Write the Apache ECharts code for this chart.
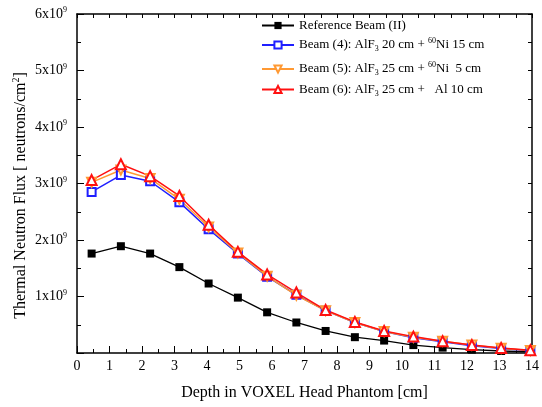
<!DOCTYPE html>
<html>
<head>
<meta charset="utf-8">
<script src="https://cdn.jsdelivr.net/npm/echarts@6/dist/echarts.min.js"></script>
<style>
    html, body { margin: 0; padding: 0; background: #fff; }
    #flux-chart { width: 542px; height: 407px; }
</style>
</head>
<body>
<div id="flux-chart"></div>
<script>
// depth of each voxel centre [cm]
var depth = [0.45, 1.35, 2.25, 3.15, 4.05, 4.95, 5.85, 6.75, 7.65, 8.55, 9.45, 10.35, 11.25, 12.15, 13.05, 13.95];

// thermal neutron flux, in units of 1e9 neutrons/cm2
var refBeam = [1.76, 1.89, 1.76, 1.52, 1.23, 0.98, 0.72, 0.54, 0.39, 0.28, 0.22, 0.14, 0.095, 0.06, 0.035, 0.02];
var beam4 = [2.85, 3.15, 3.04, 2.67, 2.19, 1.76, 1.35, 1.03, 0.75, 0.54, 0.38, 0.27, 0.20, 0.13, 0.08, 0.04];
var beam5 = [3.02, 3.24, 3.09, 2.72, 2.23, 1.77, 1.36, 1.02, 0.75, 0.54, 0.38, 0.28, 0.21, 0.14, 0.085, 0.045];
var beam6 = [3.06, 3.34, 3.13, 2.78, 2.27, 1.79, 1.39, 1.07, 0.76, 0.55, 0.39, 0.29, 0.21, 0.14, 0.09, 0.05];

var seriesNames = ['Reference Beam (II)', 'Beam (4)', 'Beam (5)', 'Beam (6)'];
var legendLabels = {
    'Reference Beam (II)': '{t|Reference Beam (II)}',
    'Beam (4)': '{t|Beam (4): AlF}{sub|3}{t| 20 cm + }{sup|60}{t|Ni 15 cm}',
    'Beam (5)': '{t|Beam (5): AlF}{sub|3}{t| 25 cm + }{sup|60}{t|Ni  5 cm}',
    'Beam (6)': '{t|Beam (6): AlF}{sub|3}{t| 25 cm +   Al 10 cm}'
};
var legendTops = [14, 32, 56, 78];

var fontFamily = '"Liberation Serif", "Times New Roman", serif';

function pairs(ys) {
    var out = [];
    for (var i = 0; i < depth.length; i++) {
        out.push([depth[i], ys[i] * 1e9]);
    }
    return out;
}

var richText = {
    t: { fontSize: 13, fontFamily: fontFamily, color: '#000' },
    sub: { fontSize: 8, fontFamily: fontFamily, color: '#000', padding: [8, 0, 0, 0] },
    sup: { fontSize: 8, fontFamily: fontFamily, color: '#000', padding: [0, 0, 8, 0] }
};

var legends = seriesNames.map(function (name, i) {
    return {
        data: [name],
        left: 256,
        top: legendTops[i],
        orient: 'vertical',
        itemWidth: 32,
        itemHeight: 9,
        itemGap: 0,
        textStyle: {
            fontFamily: fontFamily,
            fontSize: 13,
            color: '#000',
            rich: richText
        },
        formatter: function (n) {
            return legendLabels[n];
        }
    };
});

var tickStyle = { color: '#000', width: 1 };

option = {
    animation: false,
    backgroundColor: '#fff',
    legend: legends,
    grid: {
        left: 77,
        right: 9,
        top: 14,
        bottom: 54
    },
    xAxis: [
        {
            type: 'value',
            min: 0,
            max: 14,
            interval: 1,
            position: 'bottom',
            name: 'Depth in VOXEL Head Phantom [cm]',
            nameLocation: 'middle',
            nameGap: 32,
            nameTextStyle: { fontFamily: fontFamily, fontSize: 16, color: '#000' },
            axisLine: { onZero: false, lineStyle: { color: '#000', width: 1.5 } },
            axisTick: { inside: true, length: 7, lineStyle: tickStyle },
            minorTick: { show: true, splitNumber: 2, length: 4, lineStyle: tickStyle },
            axisLabel: { fontFamily: fontFamily, fontSize: 14, color: '#000', margin: 6 },
            splitLine: { show: false }
        },
        {
            type: 'value',
            min: 0,
            max: 14,
            interval: 1,
            position: 'top',
            axisLine: { onZero: false, lineStyle: { color: '#000', width: 1.5 } },
            axisTick: { inside: true, length: 4, lineStyle: tickStyle },
            minorTick: { show: true, splitNumber: 2, length: 4, lineStyle: tickStyle },
            axisLabel: { show: false },
            splitLine: { show: false }
        }
    ],
    yAxis: [
        {
            type: 'value',
            min: 0,
            max: 6e9,
            interval: 1e9,
            position: 'left',
            name: '{t|Thermal Neutron Flux [ neutrons/cm}{sup|2}{t|]}',
            nameLocation: 'middle',
            nameGap: 47,
            nameMoveOverlap: false,
            nameTextStyle: {
                padding: [12, 24, 0, 0],
                rich: {
                    t: { fontSize: 16, fontFamily: fontFamily, color: '#000' },
                    sup: { fontSize: 10, fontFamily: fontFamily, color: '#000', padding: [0, 0, 9, 0] }
                }
            },
            axisLine: { onZero: false, lineStyle: { color: '#000', width: 1.5 } },
            axisTick: { inside: true, length: 7, lineStyle: tickStyle },
            minorTick: { show: true, splitNumber: 2, length: 4, lineStyle: tickStyle },
            axisLabel: {
                margin: 10,
                formatter: function (v) {
                    if (v === 0) {
                        return '';
                    }
                    return '{t|' + Math.round(v / 1e9) + 'x10}{sup|9}';
                },
                rich: {
                    t: { fontSize: 14, fontFamily: fontFamily, color: '#000' },
                    sup: { fontSize: 8, fontFamily: fontFamily, color: '#000', padding: [0, 0, 8, 0] }
                }
            },
            splitLine: { show: false }
        },
        {
            type: 'value',
            min: 0,
            max: 6e9,
            interval: 1e9,
            position: 'right',
            axisLine: { onZero: false, lineStyle: { color: '#000', width: 1.5 } },
            axisTick: { inside: true, length: 4, lineStyle: tickStyle },
            minorTick: { show: true, splitNumber: 2, length: 4, lineStyle: tickStyle },
            axisLabel: { show: false },
            splitLine: { show: false }
        }
    ],
    series: [
        {
            name: 'Reference Beam (II)',
            type: 'line',
            data: pairs(refBeam),
            symbol: 'rect',
            symbolSize: 8,
            itemStyle: { color: '#000' },
            lineStyle: { color: '#000', width: 1.3 }
        },
        {
            name: 'Beam (4)',
            type: 'line',
            data: pairs(beam4),
            symbol: 'emptyRect',
            symbolSize: 8,
            itemStyle: { color: '#1f1fff', borderWidth: 1.3 },
            lineStyle: { color: '#1f1fff', width: 1.5 }
        },
        {
            name: 'Beam (5)',
            type: 'line',
            data: pairs(beam5),
            symbol: 'emptyTriangle',
            symbolRotate: 180,
            symbolSize: 9,
            itemStyle: { color: '#ff9933', borderWidth: 1.3 },
            lineStyle: { color: '#ff9933', width: 1.5 }
        },
        {
            name: 'Beam (6)',
            type: 'line',
            data: pairs(beam6),
            symbol: 'emptyTriangle',
            symbolSize: 10,
            itemStyle: { color: '#ff1010', borderWidth: 1.3 },
            lineStyle: { color: '#ff1010', width: 1.5 }
        }
    ]
};

var fluxChart = echarts.init(document.getElementById('flux-chart'));
fluxChart.setOption(option);
</script>
</body>
</html>
